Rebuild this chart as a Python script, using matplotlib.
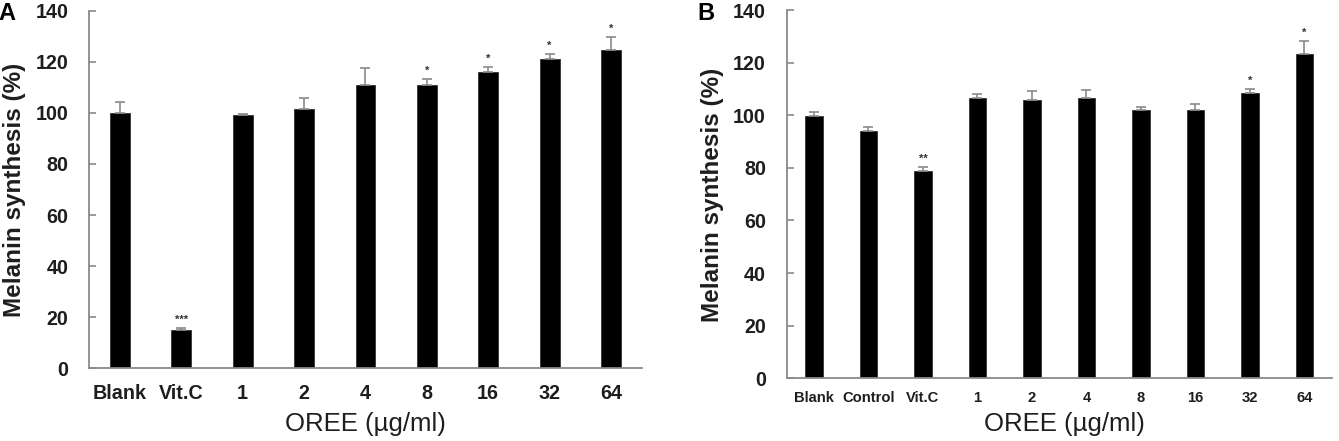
import matplotlib
matplotlib.use("Agg")
import matplotlib.pyplot as plt
import numpy as np

plt.rcParams['font.family'] = ['Liberation Sans', 'DejaVu Sans']

# Panel A data
cats_a = ["Blank", "Vit.C", "1", "2", "4", "8", "16", "32", "64"]
vals_a = [100.0, 15.0, 99.2, 101.4, 111.1, 111.1, 116.1, 120.9, 124.6]
errs_a = [4.3, 0.7, 0.3, 4.6, 6.4, 2.1, 1.8, 2.1, 5.1]
sig_a = ["", "***", "", "", "", "*", "*", "*", "*"]

# Panel B data
cats_b = ["Blank", "Control", "Vit.C", "1", "2", "4", "8", "16", "32", "64"]
vals_b = [99.8, 93.9, 78.7, 106.5, 105.9, 106.5, 101.8, 101.8, 108.4, 123.2]
errs_b = [1.4, 1.5, 1.5, 1.4, 3.5, 3.2, 1.3, 2.6, 1.5, 5.2]
sig_b = ["", "", "**", "", "", "", "", "", "*", "*"]

yticks = [0, 20, 40, 60, 80, 100, 120, 140]
xlabel = "OREE (\u00b5g/ml)"
ylabel = "Melanin synthesis (%)"

W, H = 1339, 441
fig = plt.figure(figsize=(W / 100, H / 100), dpi=100)

spine_col = "#8a8a8a"
text_col = "#1e1e1e"
err_col = "#8a8a8a"


def panel(rect, cats, vals, errs, sig, width, xt_size, xt_pad):
    ax = fig.add_axes(rect)
    x = np.arange(len(cats))
    yerr = np.array([np.zeros(len(errs)), errs])
    ax.bar(x, vals, width=width, color="black", edgecolor="#333333", linewidth=0.6,
           yerr=yerr, error_kw=dict(ecolor=err_col, elinewidth=1.2, capsize=3.5, capthick=1.2),
           zorder=2)
    for xi, v, e, s in zip(x, vals, errs, sig):
        if s:
            ax.text(xi, v + e + 1.2, s, ha="center", va="bottom", fontsize=8,
                    fontweight="bold", color="#333333")
    ax.set_xlim(-0.5, len(cats) - 0.5)
    ax.set_ylim(0, 140)
    ax.set_yticks(yticks)
    ax.set_yticklabels([str(t) for t in yticks], fontsize=14.2, fontweight="bold", color=text_col)
    ax.set_xticks(x)
    ax.set_xticklabels(cats, fontsize=xt_size, fontweight="bold", color=text_col)
    ax.tick_params(axis="y", direction="in", length=5, width=1.2, color=spine_col, pad=15)
    ax.tick_params(axis="x", length=0, pad=xt_pad)
    for s in ["top", "right"]:
        ax.spines[s].set_visible(False)
    for s in ["left", "bottom"]:
        ax.spines[s].set_color(spine_col)
        ax.spines[s].set_linewidth(1.3)
    return ax


axA = panel([0.0667, 0.1649, 0.4125, 0.8108], cats_a, vals_a, errs_a, sig_a,
            0.325, 14.2, 11.5)
axB = panel([0.5875, 0.1422, 0.4070, 0.8351], cats_b, vals_b, errs_b, sig_b,
            0.32, 10.6, 9)

# x labels
fig.text((89.3 + 641.7) / 2 / W, 1 - 424 / H, xlabel, ha="center", va="center",
         fontsize=18.5, color=text_col)
fig.text(1064 / W, 1 - 424 / H, xlabel, ha="center", va="center",
         fontsize=18.5, color=text_col)

# y labels
fig.text(15 / W, 1 - 190 / H, ylabel, rotation=90, ha="center", va="center",
         fontsize=17.5, fontweight="bold", color=text_col)
fig.text(713 / W, 1 - 194.5 / H, ylabel, rotation=90, ha="center", va="center",
         fontsize=17.5, fontweight="bold", color=text_col)

# panel letters
fig.text(7 / W, 1 - 13 / H, "A", ha="center", va="center", fontsize=17,
         fontweight="bold", color="black")
fig.text(706 / W, 1 - 14 / H, "B", ha="center", va="center", fontsize=17,
         fontweight="bold", color="black")

fig.savefig("out.png", dpi=100)
